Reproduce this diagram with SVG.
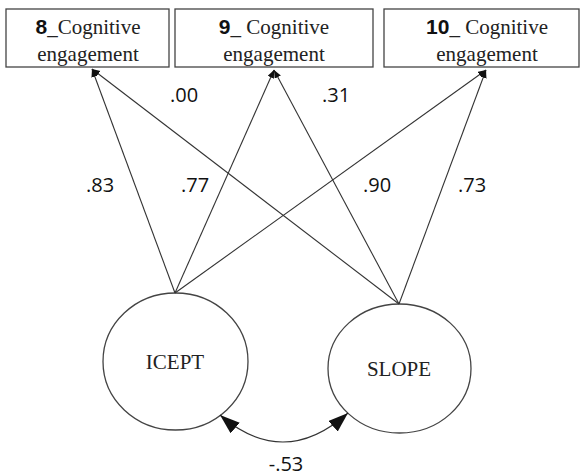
<svg xmlns="http://www.w3.org/2000/svg" width="584" height="476" viewBox="0 0 584 476">
<style>
.box{fill:#fff;stroke:#444;stroke-width:1.3}
.lat{fill:#fff;stroke:#444;stroke-width:1.3}
.t{font-family:"Liberation Serif","Times New Roman",serif;font-size:21px;fill:#222}
.n{font-family:"Liberation Sans",Arial,sans-serif;font-weight:bold;font-size:21px;fill:#111}
.lbl{font-family:"Open Sans","Liberation Sans",sans-serif;font-size:20px;fill:#111}
.ln{fill:none;stroke:#333;stroke-width:1.1}
</style>
<defs>
<marker id="ah" markerUnits="userSpaceOnUse" markerWidth="9" markerHeight="8" refX="8" refY="3.5" orient="auto">
<path d="M0,0 L8,3.5 L0,7 z" fill="#111"/>
</marker>
<marker id="big" markerUnits="userSpaceOnUse" markerWidth="21" markerHeight="15" refX="20" refY="7" orient="auto-start-reverse">
<path d="M0,0 L20,7 L0,14 z" fill="#111"/>
</marker>
</defs>
<g id="box8">
<rect class="box" x="6" y="9" width="163" height="58"/>
<text x="88" y="34" text-anchor="middle"><tspan class="n">8</tspan><tspan class="t">_Cognitive</tspan></text>
<text class="t" x="88" y="61" text-anchor="middle">engagement</text>
</g>
<g id="box9">
<rect class="box" x="175" y="9" width="198" height="58"/>
<text x="274" y="34" text-anchor="middle"><tspan class="n">9</tspan><tspan class="t">_ Cognitive</tspan></text>
<text class="t" x="274" y="61" text-anchor="middle">engagement</text>
</g>
<g id="box10">
<rect class="box" x="384" y="9" width="195" height="58"/>
<text x="487" y="34" text-anchor="middle"><tspan class="n">10</tspan><tspan class="t">_ Cognitive</tspan></text>
<text class="t" x="487" y="61" text-anchor="middle">engagement</text>
</g>
<g id="icept">
<ellipse class="lat" cx="175.5" cy="361.5" rx="72.5" ry="68.5"/>
<text class="t" x="175" y="369" text-anchor="middle" font-size="20">ICEPT</text>
</g>
<g id="slope">
<ellipse class="lat" cx="399.5" cy="368.5" rx="71.5" ry="64.5"/>
<text class="t" x="399" y="376" text-anchor="middle" font-size="20">SLOPE</text>
</g>
<g id="connectors">
<line class="ln" x1="175" y1="293" x2="92" y2="69" marker-end="url(#ah)"/>
<line class="ln" x1="175" y1="293" x2="274" y2="70" marker-end="url(#ah)"/>
<line class="ln" x1="175" y1="293" x2="486" y2="70" marker-end="url(#ah)"/>
<line class="ln" x1="399" y1="304" x2="92" y2="69" marker-end="url(#ah)"/>
<line class="ln" x1="399" y1="304" x2="274" y2="70" marker-end="url(#ah)"/>
<line class="ln" x1="399" y1="304" x2="486" y2="70" marker-end="url(#ah)"/>
<path class="ln" d="M220,415 Q284,470 348,413" marker-start="url(#big)" marker-end="url(#big)"/>
</g>
<g id="labels">
<text class="lbl" x="184" y="102" text-anchor="middle">.00</text>
<text class="lbl" x="336" y="102" text-anchor="middle">.31</text>
<text class="lbl" x="100" y="192" text-anchor="middle">.83</text>
<text class="lbl" x="195" y="192" text-anchor="middle">.77</text>
<text class="lbl" x="377" y="192" text-anchor="middle">.90</text>
<text class="lbl" x="472" y="192" text-anchor="middle">.73</text>
<text class="lbl" x="286" y="471" text-anchor="middle">-.53</text>
</g>
</svg>
